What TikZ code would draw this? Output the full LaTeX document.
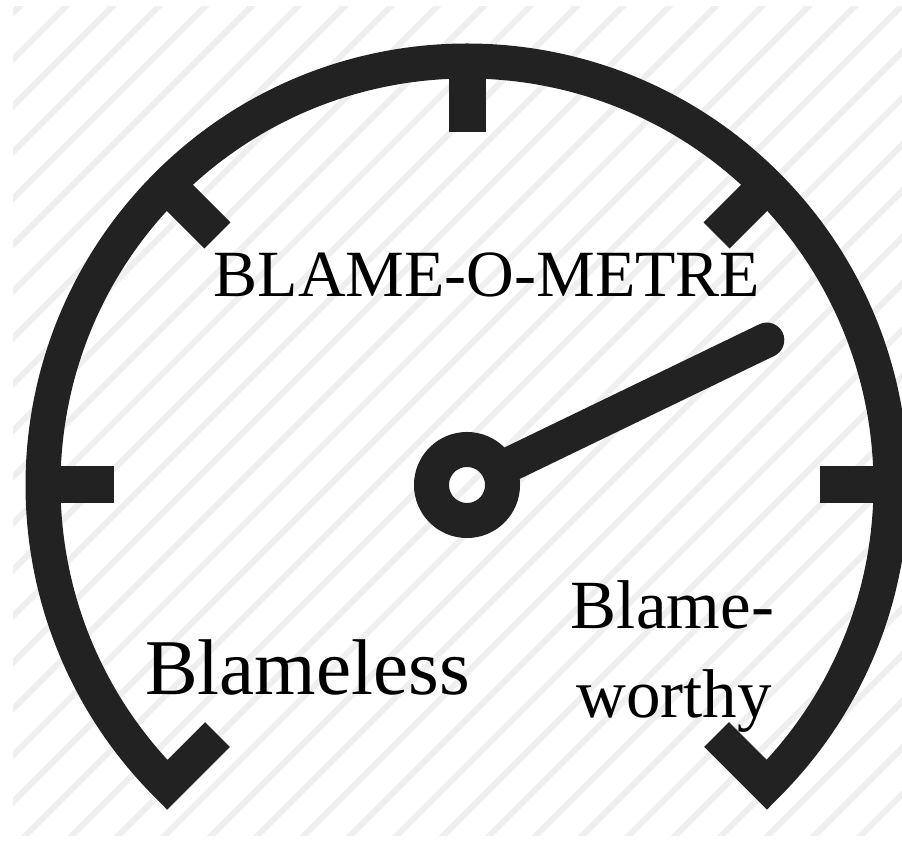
\documentclass[tikz,border=0pt]{standalone}
\usepackage{fontspec}
\setmainfont{Liberation Serif}
\usetikzlibrary{calc}
\definecolor{ink}{HTML}{222222}
\definecolor{hatch}{HTML}{EFEFEF}
\begin{document}
\begin{tikzpicture}[x=1pt,y=1pt,
  hatchline/.style={draw=hatch,line width=6pt},
  gaugearc/.style={draw=ink,line width=35pt,line join=miter},
  ticklin/.style={draw=ink,line width=37pt},
  needleline/.style={draw=ink,line width=35pt,line cap=round},
  txt/.style={text=black,inner sep=0pt,anchor=base}]
\useasboundingbox (0,0) rectangle (902,843);
\fill[white] (0,0) rectangle (902,843);
\begin{scope}
\clip (13,7) rectangle (902,836);
\foreach \k in {-1,...,39}
  \draw[hatchline] ({-817+46.4*\k-10},-10) -- ({-817+46.4*\k+850},850);
\end{scope}
\coordinate (C) at (467,358);
% main arc with end chevrons
\draw[gaugearc] ($(C)+(225:353)$) -- ($(C)+(225:424)$)
  arc[start angle=225,end angle=-45,radius=424] -- ($(C)+(-45:353)$);
% ticks
\foreach \a in {0,45,90,135,180}
  \draw[ticklin] ($(C)+(\a:424)$) -- ($(C)+(\a:353)$);
% hub and needle
\draw[draw=ink,line width=35pt] (C) circle[radius=35.5];
\coordinate (tip) at ($(C)+(25.8:333)$);
\draw[needleline] ($(C)+(25.8:40)$) -- (tip);
% labels
\node[txt,font=\fontsize{66}{79}\selectfont] (title) at (487,546) {BLAME-O-METRE};
\node[txt,font=\fontsize{79}{95}\selectfont] (left) at (307.5,148) {Blameless};
\node[txt,font=\fontsize{69}{83}\selectfont] (right1) at (672.5,214) {Blame-};
\node[txt,font=\fontsize{69}{83}\selectfont] (right2) at (674,125) {worthy};
\end{tikzpicture}
\end{document}
